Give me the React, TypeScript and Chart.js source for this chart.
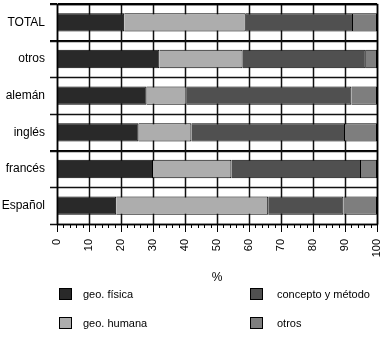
import React, { useEffect, useRef } from "react";
import { Chart, registerables } from "chart.js";

Chart.register(...registerables);

const categories = ["TOTAL", "otros", "alemán", "inglés", "francés", "Español"];
const geoFisica = [21, 32, 28, 25.5, 30, 18.5];
const geoHumana = [38, 26, 12.5, 16.5, 24.5, 47.5];
const conceptoMetodo = [33.5, 38.5, 51.5, 48, 40.5, 23.5];
const otrosSerie = [7.5, 3.5, 8, 10, 5, 10.5];
const seriesNames = ["geo. física", "geo. humana", "concepto y método", "otros"];
const seriesColors = ["#292929", "#adadad", "#505050", "#7e7e7e"];
const xMin = 0;
const xMax = 100;
const xStep = 10;
const minorStep = 2;
const axisTitle = "%";
const BAR_PCT = 0.5;

const FONT = "'Liberation Sans', Arial, Helvetica, sans-serif";

const gridPlugin = {
  id: "gridlines",
  beforeDatasetsDraw(chart: any) {
    const ctx = chart.ctx;
    const x = chart.scales.x;
    const y = chart.scales.y;
    const area = chart.chartArea;
    const n = categories.length;
    const band = (area.bottom - area.top) / n;
    ctx.save();
    ctx.strokeStyle = "#111";
    ctx.lineWidth = 1.5;
    ctx.beginPath();
    for (let v = xMin; v <= xMax; v += xStep) {
      const px = Math.round(x.getPixelForValue(v)) + 0.5;
      ctx.moveTo(px, area.top);
      ctx.lineTo(px, area.bottom);
    }
    for (let i = 0; i <= n; i++) {
      const py = Math.round(y.getPixelForValue(i) - band / 2) + 0.5;
      ctx.moveTo(area.left - 7, py);
      ctx.lineTo(area.right, py);
    }
    ctx.stroke();
    ctx.restore();
  },
  afterDraw(chart: any) {
    const ctx = chart.ctx;
    const x = chart.scales.x;
    const area = chart.chartArea;
    ctx.save();
    ctx.strokeStyle = "#000";
    ctx.lineWidth = 1.5;
    ctx.strokeRect(Math.round(area.left) + 0.5, Math.round(area.top) + 0.5, Math.round(area.right - area.left), Math.round(area.bottom - area.top));
    ctx.lineWidth = 1;
    ctx.beginPath();
    for (let v = xMin; v <= xMax; v += minorStep) {
      if (v % xStep === 0) continue;
      const px = Math.round(x.getPixelForValue(v)) + 0.5;
      ctx.moveTo(px, area.bottom);
      ctx.lineTo(px, area.bottom + 4);
    }
    ctx.stroke();
    ctx.fillStyle = "#000";
    ctx.font = `12px ${FONT}`;
    ctx.textAlign = "center";
    ctx.textBaseline = "middle";
    ctx.fillText(axisTitle, x.getPixelForValue(50), 278);
    const positions = [
      { bx: 59, by: 288, tx: 83 },
      { bx: 59, by: 317, tx: 83 },
      { bx: 250, by: 288, tx: 277 },
      { bx: 250, by: 317, tx: 277 },
    ];
    chart.data.datasets.forEach((ds: any, i: number) => {
      const p = positions[i];
      ctx.fillStyle = ds.backgroundColor;
      ctx.fillRect(p.bx, p.by, 13, 12);
      ctx.strokeStyle = "#000";
      ctx.strokeRect(p.bx + 0.5, p.by + 0.5, 12, 11);
      ctx.fillStyle = "#000";
      ctx.font = `11px ${FONT}`;
      ctx.textAlign = "left";
      ctx.textBaseline = "middle";
      ctx.fillText(ds.label, p.tx, p.by + 6.5);
    });
    ctx.restore();
  },
};

export default function App() {
  const ref = useRef<HTMLCanvasElement | null>(null);
  useEffect(() => {
    if (!ref.current) return;
    const data = [geoFisica, geoHumana, conceptoMetodo, otrosSerie];
    const chart = new Chart(ref.current, {
      type: "bar",
      data: {
        labels: categories,
        datasets: data.map((d, i) => ({
          label: seriesNames[i],
          data: d,
          backgroundColor: seriesColors[i],
          borderColor: "#000",
          borderWidth: 1,
          barPercentage: BAR_PCT,
          categoryPercentage: 1,
        })),
      },
      options: {
        indexAxis: "y",
        animation: false,
        responsive: false,
        maintainAspectRatio: false,
        layout: { padding: { top: 4, right: 8, bottom: 81, left: 0 } },
        plugins: { legend: { display: false }, tooltip: { enabled: false } },
        scales: {
          x: {
            stacked: true,
            min: xMin,
            max: xMax,
            ticks: {
              stepSize: xStep,
              minRotation: 90,
              maxRotation: 90,
              padding: 7,
              color: "#000",
              font: { family: FONT, size: 11 },
            },
            grid: { color: "#000", lineWidth: 1, tickLength: 8, tickColor: "#000" },
            border: { color: "#000", width: 1 },
            afterFit: (s: any) => {
              s.height = 40;
              s.paddingLeft = 0;
              s.paddingRight = 0;
            },
          },
          y: {
            stacked: true,
            ticks: { padding: 5, color: "#000", font: { family: FONT, size: 12 } },
            grid: { color: "#000", lineWidth: 1, tickLength: 7, offset: true, tickColor: "#000" },
            border: { color: "#000", width: 1 },
            afterFit: (s: any) => {
              s.width = 57;
              s.paddingTop = 0;
              s.paddingBottom = 0;
            },
          },
        },
      },
      plugins: [gridPlugin],
    });
    return () => chart.destroy();
  }, []);
  return (
    <div style={{ position: "fixed", left: 0, top: 0, width: 385, height: 345, background: "#fff" }}>
      <canvas ref={ref} width={385} height={345} style={{ width: 385, height: 345, display: "block" }} />
    </div>
  );
}
